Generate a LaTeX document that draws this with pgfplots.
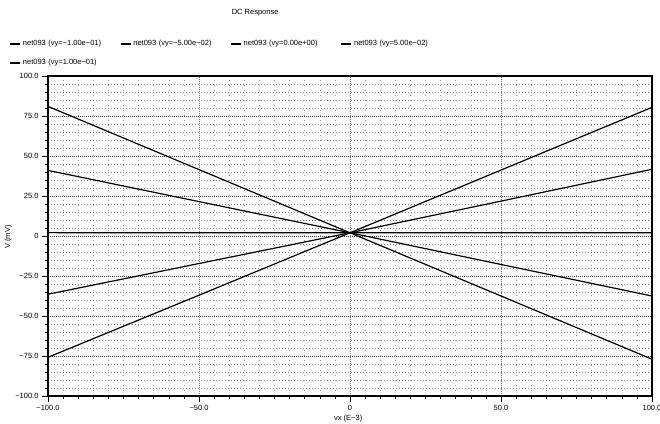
\documentclass[border=0pt]{standalone}
\usepackage{fontspec}
\setmainfont{Liberation Sans}
\usepackage{pgfplots}
\pgfplotsset{compat=1.18}
\begin{document}
\begin{tikzpicture}[x=1pt,y=1pt]
\begin{axis}[
  at={(48pt,27pt)}, anchor=south west,
  scale only axis, width=604pt, height=320pt,
  xmin=-100, xmax=100, ymin=-100, ymax=100,
  xtick={-100,-50,0,50,100},
  xticklabels={−100.0,−50.0,0,50.0,100.0},
  ytick={-100,-75,-50,-25,0,25,50,75,100},
  yticklabels={−100.0,−75.0,−50.0,−25.0,0,25.0,50.0,75.0,100.0},
  minor x tick num=9, minor y tick num=4,
  xtick pos=bottom, ytick pos=left,
  tick align=outside,
  major tick length=6pt, minor tick length=3pt,
  every tick/.style={black, line width=0.6pt},
  axis line style={line width=1.5pt},
  grid=both,
  major x grid style={dash pattern=on 1pt off 1pt, black!55, line width=0.9pt},
  major y grid style={dash pattern=on 1pt off 1pt, black!75, line width=0.8pt},
  minor x grid style={dash pattern=on 1pt off 4pt, black!40, line width=0.6pt},
  minor y grid style={dash pattern=on 1pt off 2pt, black!50, line width=0.6pt},
  ticklabel style={font=\fontsize{7.5}{9}\selectfont},
  /pgf/number format/assume math mode=true,
  title={DC Response},
  title style={font=\fontsize{7.5}{9}\selectfont, at={(axis description cs:0.343,1.178)}, anchor=center, yshift=0pt},
  xlabel={vx (E−3)},
  xlabel style={font=\fontsize{7.5}{9}\selectfont, at={(axis description cs:0.497,-0.072)}, anchor=center},
  ylabel={V (mV)},
  ylabel style={font=\fontsize{7.5}{9}\selectfont, at={(axis description cs:-0.066,0.497)}, anchor=center, rotate=0},
  legend columns=4,
  legend style={at={(axis description cs:-0.064,1.118)}, anchor=north west, draw=none, fill=none,
    font=\fontsize{7.5}{9}\selectfont, inner sep=0pt, row sep=8pt,
    /tikz/every even column/.append style={text width=95pt}},
  legend cell align=left,
  legend image code/.code={\draw[black, line width=1.4pt] (0pt,0pt) -- (10pt,0pt);},
  cycle list={{black, mark=none}},
  every axis plot/.append style={line width=1.2pt},
]
\addplot coordinates {(-100,81) (-50,41.5) (0,2) (50,-37.5) (100,-77)};
\addlegendentry{net093 (vy=−1.00e−01)}
\addplot coordinates {(-100,41) (-50,21.5) (0,2) (50,-17.8) (100,-37.5)};
\addlegendentry{net093 (vy=−5.00e−02)}
\addplot coordinates {(-100,2.1) (-50,2) (0,2) (50,2) (100,2)};
\addlegendentry{net093 (vy=0.00e+00)}
\addplot coordinates {(-100,-36.4) (-50,-17.2) (0,2) (50,21.8) (100,41.7)};
\addlegendentry{net093 (vy=5.00e−02)}
\addplot coordinates {(-100,-75.8) (-50,-37) (0,2) (50,41.2) (100,80.4)};
\addlegendentry{net093 (vy=1.00e−01)}
\end{axis}
\pgfresetboundingbox
\useasboundingbox (0,0) rectangle (660pt,423pt);
\end{tikzpicture}
\end{document}
